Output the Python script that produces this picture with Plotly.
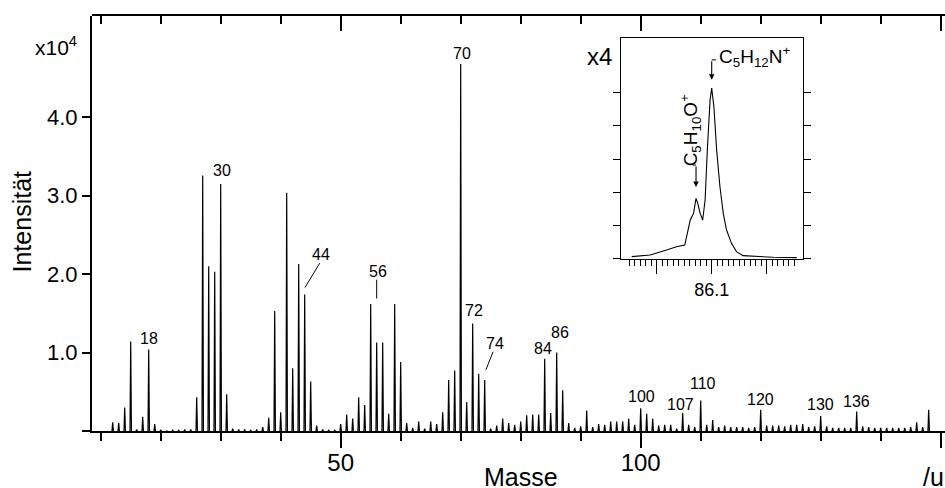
import plotly.graph_objects as go

# ---------------- data ----------------
masses = list(range(12, 149))
heights = [
    0.11, 0.10, 0.30, 1.14, 0.02, 0.18, 1.04, 0.09, 0.01, 0.005,   # 12-21
    0.01, 0.01, 0.02, 0.02, 0.43, 3.26, 2.10, 2.03, 3.15, 0.47,    # 22-31
    0.03, 0.02, 0.02, 0.01, 0.02, 0.05, 0.17, 1.53, 0.24, 3.04,    # 32-41
    0.80, 2.13, 1.74, 0.63, 0.07, 0.02, 0.01, 0.01, 0.09, 0.21,    # 42-51
    0.16, 0.43, 0.33, 1.62, 1.13, 1.13, 0.22, 1.62, 0.88, 0.10,    # 52-61
    0.04, 0.12, 0.03, 0.12, 0.09, 0.24, 0.65, 0.77, 4.68, 0.37,    # 62-71
    1.37, 0.73, 0.65, 0.03, 0.07, 0.16, 0.10, 0.08, 0.12, 0.20,    # 72-81
    0.21, 0.21, 0.92, 0.23, 1.00, 0.52, 0.10, 0.04, 0.06, 0.26,    # 82-91
    0.05, 0.09, 0.08, 0.12, 0.12, 0.12, 0.16, 0.08, 0.29, 0.22,    # 92-101
    0.16, 0.07, 0.08, 0.08, 0.03, 0.23, 0.08, 0.05, 0.39, 0.08,    # 102-111
    0.14, 0.05, 0.07, 0.05, 0.05, 0.05, 0.04, 0.05, 0.27, 0.07,    # 112-121
    0.07, 0.07, 0.06, 0.08, 0.08, 0.09, 0.05, 0.06, 0.19, 0.06,    # 122-131
    0.04, 0.04, 0.04, 0.04, 0.25, 0.06, 0.05, 0.04, 0.04, 0.04,    # 132-141
    0.04, 0.04, 0.04, 0.05, 0.11, 0.05, 0.27,                      # 142-148
]

# peak labels: text, x, y (data units)
label_text = ["18", "30", "44", "56", "70", "72", "74", "84", "86",
              "100", "107", "110", "120", "130", "136"]
label_x = [18.0, 30.2, 46.8, 56.3, 70.3, 72.3, 75.7, 83.8, 86.5,
           100.1, 106.7, 110.4, 120.0, 130.0, 136.0]
label_y = [1.18, 3.32, 2.25, 2.04, 4.82, 1.54, 1.11, 1.05, 1.26,
           0.44, 0.34, 0.60, 0.40, 0.34, 0.38]

# leader lines: (x0, y0, x1, y1)
leaders = [(46.5, 2.14, 44.05, 1.83),
           (56.0, 1.93, 56.0, 1.69),
           (75.4, 1.01, 74.2, 0.78)]

# inset (high-resolution view around m/z 86)
inset_mass = [85.9545, 85.988, 86.018, 86.036, 86.051, 86.056, 86.061, 86.067,
              86.0715, 86.0745, 86.079, 86.0836, 86.088, 86.092, 86.097, 86.100,
              86.104, 86.109, 86.115, 86.121, 86.127, 86.136, 86.145, 86.157,
              86.182, 86.212, 86.2545]
inset_int = [0.07, 0.12, 0.27, 0.37, 0.42, 0.77, 1.17, 1.37,
             1.82, 1.68, 1.37, 1.17, 1.77, 3.27, 4.77, 5.13,
             4.57, 3.27, 2.17, 1.37, 0.87, 0.47, 0.22, 0.10,
             0.07, 0.05, 0.04]

FONT = "Liberation Sans, Arial, Helvetica, sans-serif"
HALF = 0.12  # half base width of each spectral spike

# ---------------- build spikes ----------------
sx, sy = [], []
for m, h in zip(masses, heights):
    sx += [m - HALF, m, m + HALF, None]
    sy += [0, h, 0, None]

fig = go.Figure()
# invisible trace carrying the top axis (separate, non-overlaid subplot)
fig.add_trace(go.Scatter(x=[50], y=[0], xaxis="x3", yaxis="y3", mode="markers",
                         marker=dict(opacity=0), showlegend=False, hoverinfo="skip"))
fig.add_trace(go.Scatter(x=sx, y=sy, mode="lines",
                         line=dict(color="black", width=1.2),
                         hoverinfo="skip", showlegend=False))
# inset curve
fig.add_trace(go.Scatter(x=inset_mass, y=inset_int, xaxis="x2", yaxis="y2",
                         mode="lines", line=dict(color="black", width=1.1),
                         showlegend=False, hoverinfo="skip"))

XR = [8.55, 150.72]
YR = [0, 5.293]
MINOR_MAIN = [10, 20, 30, 40, 60, 70, 80, 90, 110, 120, 130, 140]
fig.update_layout(
    width=945, height=488,
    margin=dict(l=92, r=0, t=16, b=57, autoexpand=False),
    paper_bgcolor="white", plot_bgcolor="rgba(0,0,0,0)",
    font=dict(family=FONT, color="black"),
    xaxis=dict(range=XR, domain=[0, 1], showgrid=False, zeroline=False,
               automargin=False,
               showline=True, linewidth=2, linecolor="black",
               tickmode="array", tickvals=[50, 100, 150], ticktext=["50", "100", ""],
               ticks="outside", ticklen=15, tickwidth=2, tickcolor="black",
               tickfont=dict(size=24), ticklabelstandoff=-6,
               minor=dict(tickmode="array", tickvals=MINOR_MAIN,
                          ticks="outside", ticklen=8, tickwidth=2, tickcolor="black")),
    xaxis3=dict(range=XR, domain=[0, 1], side="top", anchor="y3",
                automargin=False, fixedrange=True,
                showgrid=False, zeroline=False, showline=True, linewidth=2,
                linecolor="black", showticklabels=False,
                tickmode="array", tickvals=[50, 100, 150],
                ticks="inside", ticklen=15, tickwidth=2, tickcolor="black",
                minor=dict(tickmode="array", tickvals=MINOR_MAIN,
                           ticks="inside", ticklen=8, tickwidth=2, tickcolor="black")),
    yaxis3=dict(range=YR, domain=[0, 1], anchor="x3", fixedrange=True,
                automargin=False, showline=False, showgrid=False, zeroline=False,
                showticklabels=False, ticks=""),
    yaxis=dict(range=YR, domain=[0, 1], showgrid=False, zeroline=False,
               automargin=False,
               showline=True, linewidth=2, linecolor="black",
               tickmode="array", tickvals=[0, 1, 2, 3, 4],
               ticktext=["", "1.0", "2.0", "3.0", "4.0"],
               ticks="outside", ticklen=8, tickwidth=2, tickcolor="black",
               tickfont=dict(size=22)),
    xaxis2=dict(domain=[0.6198, 0.8332], anchor="y2", automargin=False,
                range=[85.9345, 86.2655], showgrid=False, zeroline=False,
                showline=True, mirror=True, linewidth=1.2, linecolor="black",
                tickmode="array", tickvals=[86.0, 86.1, 86.2],
                ticktext=["", "86.1", ""],
                ticks="outside", ticklen=14, tickwidth=1.2, tickcolor="black",
                tickfont=dict(size=18),
                minor=dict(tickmode="array",
                           tickvals=[round(85.95 + 0.01 * i, 2) for i in range(31)
                                     if i not in (5, 15, 25)],
                           ticks="outside", ticklen=6, tickwidth=1, tickcolor="black")),
    yaxis2=dict(domain=[0.4145, 0.9463], anchor="x2", range=[0, 6.628],
                automargin=False,
                showgrid=False, zeroline=False, showline=True, mirror="ticks",
                linewidth=1.2, linecolor="black", showticklabels=False,
                tickmode="array", tickvals=[0, 1, 2, 3, 4, 5],
                ticks="outside", ticklen=7, tickwidth=1.2, tickcolor="black"),
)

ann = []
for t, x, y in zip(label_text, label_x, label_y):
    ann.append(dict(x=x, y=y, xref="x", yref="y", text=t, showarrow=False,
                    font=dict(size=16), xanchor="center", yanchor="middle"))

shapes = []
for x0, y0, x1, y1 in leaders:
    shapes.append(dict(type="line", xref="x", yref="y", x0=x0, y0=y0, x1=x1, y1=y1,
                       line=dict(color="black", width=1)))

# axis titles and factors
C = dict(showarrow=False, xanchor="center", yanchor="middle",
         xref="paper", yref="paper")
ann += [
    dict(x=-0.0821, y=0.5048, text="Intensität", textangle=-90,
         font=dict(size=25), **C),
    dict(x=-0.0422, y=0.9277, text="x10<sup>4</sup>", font=dict(size=21), **C),
    dict(x=0.5035, y=-0.110, text="Masse", font=dict(size=25), **C),
    dict(x=0.986, y=-0.110, text="/u", font=dict(size=25), **C),
    dict(x=0.5955, y=0.9036, text="x4", font=dict(size=24), **C),
]

# inset annotations
ann += [
    dict(x=86.109, y=6.07, xref="x2", yref="y2", xanchor="left", yanchor="middle",
         text="C<sub>5</sub>H<sub>12</sub>N<sup>+</sup>", showarrow=False,
         font=dict(size=19)),
    dict(x=86.1, y=5.38, xref="x2", yref="y2", ax=86.1, ay=5.98,
         axref="x2", ayref="y2", text="", showarrow=True, arrowhead=2,
         arrowsize=1, arrowwidth=1.1, arrowcolor="black"),
    dict(x=86.061, y=3.87, xref="x2", yref="y2", textangle=-90,
         xanchor="center", yanchor="middle",
         text="C<sub>5</sub>H<sub>10</sub>O<sup>+</sup>", showarrow=False,
         font=dict(size=19)),
    dict(x=86.0715, y=2.16, xref="x2", yref="y2", ax=86.0715, ay=2.82,
         axref="x2", ayref="y2", text="", showarrow=True, arrowhead=2,
         arrowsize=1, arrowwidth=1.1, arrowcolor="black"),
]
shapes += [
    dict(type="line", xref="x2", yref="y2", x0=86.1, y0=5.98, x1=86.108, y1=5.98,
         line=dict(color="black", width=1)),
    dict(type="line", xref="x2", yref="y2", x0=86.066, y0=2.82, x1=86.0715, y1=2.82,
         line=dict(color="black", width=1)),
]

fig.update_layout(annotations=ann, shapes=shapes)
fig.write_html("out.html", config={"displayModeBar": False},
               post_script="document.body.style.margin='0';"
                           "document.body.style.overflow='hidden';")
